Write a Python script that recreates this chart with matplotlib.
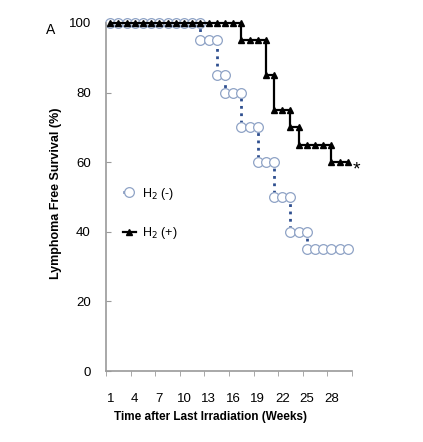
import matplotlib.pyplot as plt
import numpy as np

plt.rcParams['font.family'] = ['Liberation Sans', 'DejaVu Sans']

# step data: weeks with survival values (duplicate week where the curve drops)
h2_neg_weeks = [1, 2, 3, 4, 5, 6, 7, 8, 9, 10, 11, 12,
                12, 13, 14,
                14, 15,
                15, 16, 17,
                17, 18, 19,
                19, 20, 21,
                21, 22, 23,
                23, 24, 25,
                25, 26, 27, 28, 29, 30]
h2_neg_surv = [100] * 12 + [95] * 3 + [85] * 2 + [80] * 3 + [70] * 3 + \
              [60] * 3 + [50] * 3 + [40] * 3 + [35] * 6

h2_pos_weeks = list(range(1, 18)) + \
               [17, 18, 19, 20] + \
               [20, 21] + \
               [21, 22, 23] + \
               [23, 24] + \
               [24, 25, 26, 27, 28] + \
               [28, 29, 30]
h2_pos_surv = [100] * 17 + [95] * 4 + [85] * 2 + [75] * 3 + [70] * 2 + \
              [65] * 5 + [60] * 3

week_labels = [1, 4, 7, 10, 13, 16, 19, 22, 25, 28]
y_ticks = [0, 20, 40, 60, 80, 100]

axis_grey = '#9a9a9a'

fig = plt.figure(figsize=(4.23, 4.42), dpi=100)
ax = fig.add_axes([0.251, 0.1606, 0.581, 0.7874])

ax.plot(h2_neg_weeks, h2_neg_surv, linestyle=':', color='#2f4f8f', linewidth=2,
        marker='o', markersize=7, markerfacecolor='white',
        markeredgecolor='#8fa3c6', markeredgewidth=0.9, clip_on=False,
        label='H$_2$ (-)')
ax.plot(h2_pos_weeks, h2_pos_surv, linestyle='-', color='black', linewidth=1.6,
        marker='^', markersize=4.2, markerfacecolor='black',
        markeredgecolor='black', clip_on=False, label='H$_2$ (+)')

# significance mark next to the last H2(+) point
ax.annotate('*', xy=(h2_pos_weeks[-1], h2_pos_surv[-1]), xytext=(6.5, -9),
            textcoords='offset points', ha='center', va='baseline', fontsize=14)

ax.set_xlim(0.5, 30.5)
ax.set_ylim(0, 100)

ax.set_xticks(week_labels)
ax.set_xticklabels([str(w) for w in week_labels])
ax.set_xticks(np.arange(0.5, 31, 3), minor=True)
ax.tick_params(axis='x', which='major', length=0, pad=16, labelsize=9.5)
ax.tick_params(axis='x', which='minor', length=3.5, color=axis_grey, direction='out')

ax.set_yticks(y_ticks)
ax.tick_params(axis='y', length=3.5, color=axis_grey, direction='in', pad=11, labelsize=9.5)

for side in ['top', 'right']:
    ax.spines[side].set_visible(False)
for side in ['left', 'bottom']:
    ax.spines[side].set_color(axis_grey)
    ax.spines[side].set_linewidth(1.2)

ax.set_xlabel('Time after Last Irradiation (Weeks)', fontsize=8.5,
              fontweight='bold')
ax.xaxis.set_label_coords(0.425, -0.115)
ax.set_ylabel('Lymphoma Free Survival (%)', fontsize=9, fontweight='bold')
ax.yaxis.set_label_coords(-0.178, 0.51)

ax.legend(loc='center left', bbox_to_anchor=(0.049, 0.4526), frameon=False,
          numpoints=1, handlelength=1.0, labelspacing=1.9, fontsize=9,
          handletextpad=0.5, borderaxespad=0)

fig.text(0.1206, 0.932, 'A', fontsize=10, ha='center', va='center')

fig.savefig('out.png', dpi=100)
